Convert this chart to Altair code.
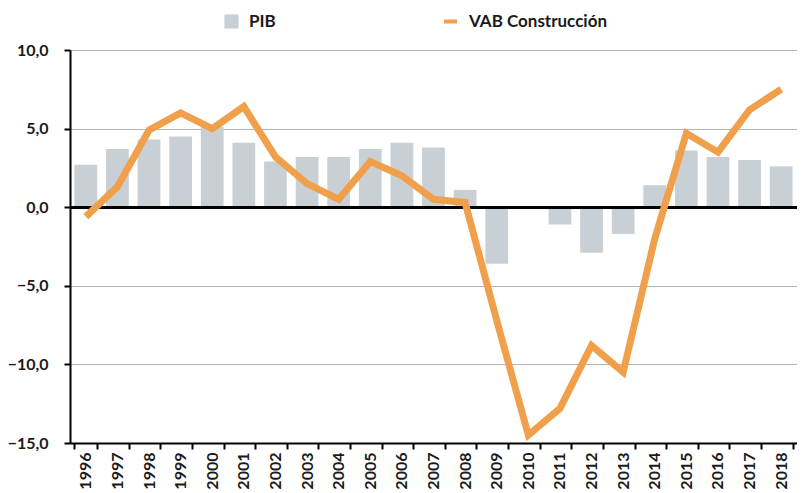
import altair as alt
import pandas as pd

years = ["1996", "1997", "1998", "1999", "2000", "2001", "2002", "2003", "2004", "2005",
         "2006", "2007", "2008", "2009", "2010", "2011", "2012", "2013", "2014", "2015",
         "2016", "2017", "2018"]
pib = [2.7, 3.7, 4.3, 4.5, 5.1, 4.1, 2.9, 3.2, 3.2, 3.7,
       4.1, 3.8, 1.1, -3.6, 0.0, -1.1, -2.9, -1.7, 1.4, 3.6,
       3.2, 3.0, 2.6]
vab = [-0.6, 1.3, 4.9, 6.0, 5.0, 6.4, 3.2, 1.5, 0.5, 2.9,
       2.0, 0.5, 0.3, -7.2, -14.5, -12.8, -8.8, -10.5, -2.0, 4.7,
       3.5, 6.2, 7.5]
series_names = ["PIB", "VAB Construcción"]
y_ticks = [-15, -10, -5, 0, 5, 10]

df = pd.DataFrame({"year": years, "pib": pib, "vab": vab})
df["s_pib"] = series_names[0]
df["s_vab"] = series_names[1]

FONT = "Lato"
TXT = "#1a1a1a"
BAR = "#c8d0d6"
ORANGE = "#f0a04b"

x_enc = alt.X(
    "year:O",
    sort=years,
    scale=alt.Scale(paddingInner=0.28, paddingOuter=0.14),
    axis=alt.Axis(
        title=None,
        labelAngle=-90,
        labelFontSize=16,
        labelFontWeight="bold",
        labelColor=TXT,
        labelFont=FONT,
        labelPadding=3,
        domainColor="black",
        domainWidth=2,
        tickColor="black",
        tickWidth=2,
        tickSize=6,
        tickBand="extent",
        grid=False,
    ),
)

y_scale = alt.Scale(domain=[-15, 10], nice=False)

bars = alt.Chart(df).mark_bar().encode(
    x=x_enc,
    y=alt.Y(
        "pib:Q",
        scale=y_scale,
        axis=alt.Axis(
            title=None,
            values=y_ticks,
            labelExpr="replace(format(datum.value, '.1f'), '.', ',')",
            labelFontSize=16,
            labelFontWeight="bold",
            labelColor=TXT,
            labelFont=FONT,
            labelPadding=16,
            domainColor="black",
            domainWidth=2,
            tickColor="black",
            tickWidth=2,
            tickSize=6,
            grid=True,
            gridColor="#b3b3b3",
            gridWidth=1,
        ),
    ),
    fill=alt.Fill(
        "s_pib:N",
        scale=alt.Scale(domain=[series_names[0]], range=[BAR]),
        legend=alt.Legend(
            title=None,
            orient="none",
            legendX=153,
            legendY=-37,
            symbolType="square",
            symbolSize=200,
            symbolStrokeWidth=0,
            symbolOpacity=1,
            labelFontSize=17,
            labelFont=FONT,
            labelFontWeight="bold",
            labelColor=TXT,
            labelOffset=9,
        ),
    ),
)

zero = alt.Chart(df).mark_rule(color="black", strokeWidth=2.5).encode(
    y=alt.datum(0, scale=y_scale)
)

line = alt.Chart(df).mark_line(strokeWidth=7, strokeJoin="miter", strokeCap="butt").encode(
    x=alt.X("year:O", sort=years),
    y=alt.Y("vab:Q", scale=y_scale),
    stroke=alt.Stroke(
        "s_vab:N",
        scale=alt.Scale(domain=[series_names[1]], range=[ORANGE]),
        legend=alt.Legend(
            title=None,
            orient="none",
            legendX=372,
            legendY=-37,
            symbolType="stroke",
            symbolSize=169,
            symbolStrokeWidth=4,
            labelFontSize=17,
            labelFont=FONT,
            labelFontWeight="bold",
            labelColor=TXT,
            labelOffset=10,
        ),
    ),
)

chart = (
    alt.layer(bars, zero, line)
    .resolve_scale(fill="independent", stroke="independent")
    .resolve_legend(fill="independent", stroke="independent")
    .properties(
        width=727,
        height=393,
        autosize=alt.AutoSizeParams(type="none"),
        padding={"left": 62, "top": 42, "right": 0, "bottom": 46},
    )
    .configure_view(stroke=None)
    .configure(background="white")
)

chart.save("out.html", embed_options={"renderer": "svg", "actions": False})
